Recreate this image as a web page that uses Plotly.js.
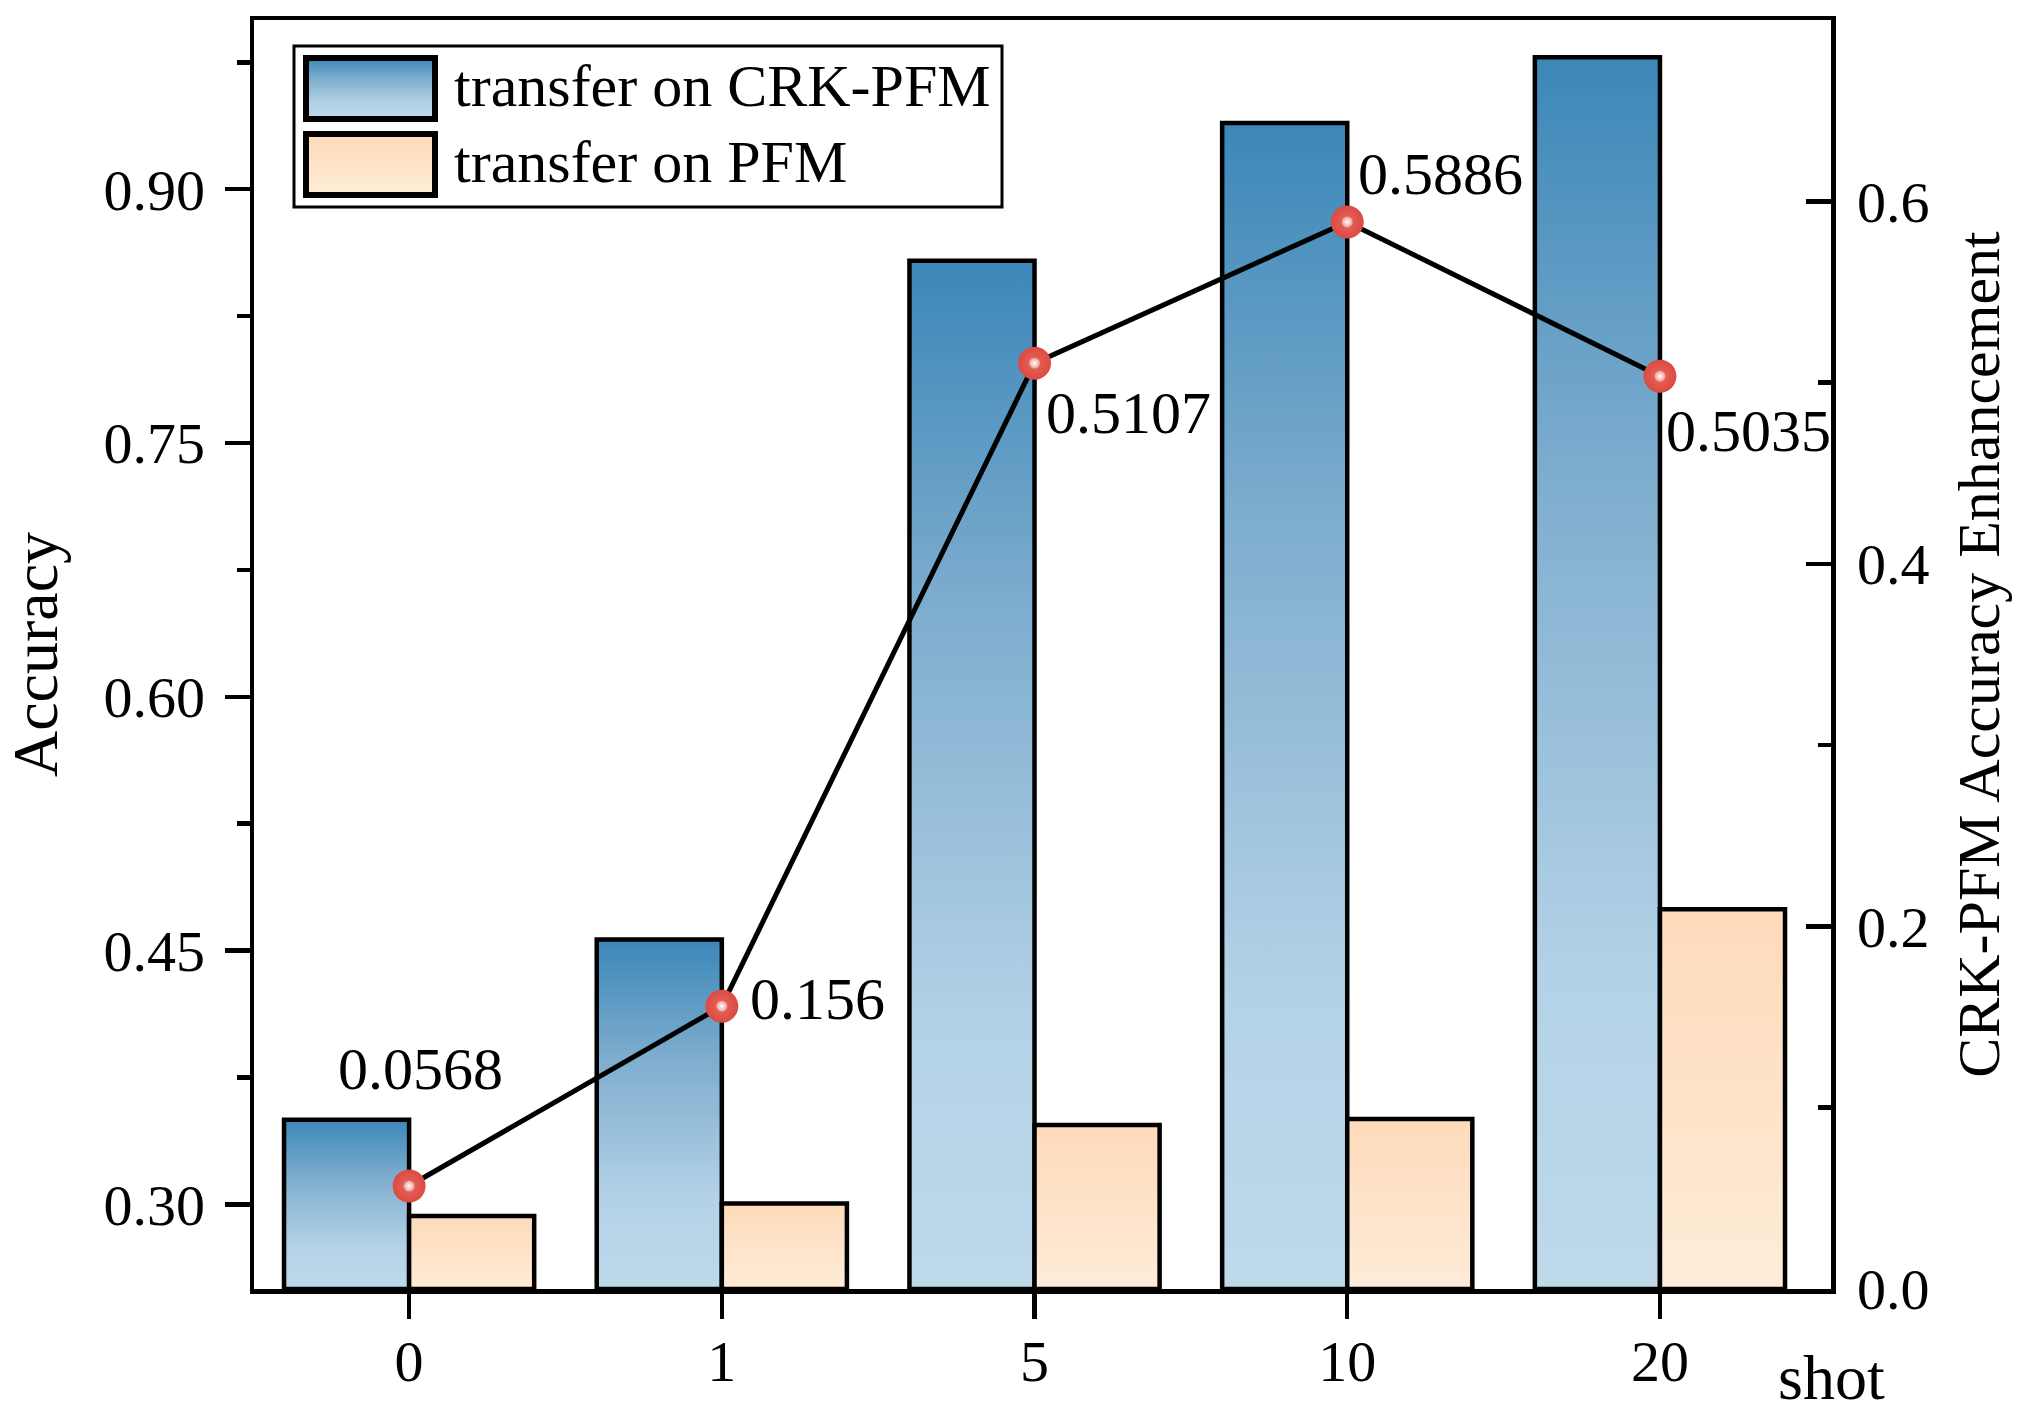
<!DOCTYPE html>
<html>
<head>
<meta charset="utf-8">
<script src="https://cdn.plot.ly/plotly-3.0.1.min.js"></script>
<style>html,body{margin:0;padding:0;background:#fff;}#chart{width:2032px;height:1419px;}</style>
</head>
<body>
<div id="chart"></div>
<script>
// ---------------- data ----------------
const categories = ['0', '1', '5', '10', '20'];
const crkAccuracy = [0.3500, 0.4565, 0.8577, 0.9391, 0.9780];
const pfmAccuracy = [0.2932, 0.3005, 0.3470, 0.3505, 0.4745];
const enhancement = [0.0568, 0.156, 0.5107, 0.5886, 0.5035];
const enhancementLabels = ['0.0568', '0.156', '0.5107', '0.5886', '0.5035'];
const seriesNames = ['transfer on CRK-PFM', 'transfer on PFM'];
const leftTickVals = [0.30, 0.45, 0.60, 0.75, 0.90];
const rightTickVals = [0.0, 0.2, 0.4, 0.6];

// ---------------- style ----------------
const W = 2032, H = 1419;
const M = {l: 254, r: 201, t: 20, b: 130};
const PW = W - M.l - M.r, PH = H - M.t - M.b;
const FONT = 'Liberation Serif, Times New Roman, serif';
const blueScale = [[0, '#BDD9EA'], [0.25, '#B4D2E7'], [0.65, '#80AECF'], [1, '#3B87B8']];
const orangeScale = [[0, '#FEECD8'], [1, '#FEDABA']];
const leftRange = [0.25, 1.0];
const rightRange = [0, 0.7];
const xRange = [-0.496, 4.547];
const barWidth = 0.4;
const LW = 4.5;
const labelStyle = [
  {xanchor: 'center', xshift: 11, yshift: 117},
  {xanchor: 'left', xshift: 26, yshift: 7},
  {xanchor: 'left', xshift: 9, yshift: -50},
  {xanchor: 'left', xshift: 9, yshift: 48},
  {xanchor: 'left', xshift: 4, yshift: -55}
];
const px2x = p => (p - M.l) / PW;
const px2y = p => (H - M.b - p) / PH;

// ---------------- traces ----------------
const traces = [];
const base = leftRange[0];
function barTrace(i, value, offset, scale, name) {
  const x0 = i + offset, x1 = i + offset + barWidth;
  return {
    type: 'scatter', mode: 'lines', name: name, showlegend: false, hoverinfo: 'skip',
    x: [x0, x0, x1, x1, x0], y: [base, value, value, base, base],
    fill: 'toself',
    fillgradient: {type: 'vertical', colorscale: scale},
    line: {color: '#000', width: LW}
  };
}
categories.forEach((c, i) => {
  traces.push(barTrace(i, crkAccuracy[i], -barWidth, blueScale, seriesNames[0]));
  traces.push(barTrace(i, pfmAccuracy[i], 0, orangeScale, seriesNames[1]));
});
const catIdx = categories.map((c, i) => i);
traces.push({
  type: 'scatter', mode: 'lines+markers', x: catIdx, y: enhancement, yaxis: 'y2',
  showlegend: false, hoverinfo: 'skip',
  line: {color: '#000', width: 5},
  marker: {size: 33, color: '#DA4A42', gradient: {type: 'radial', color: '#E8675E'}}
});
traces.push({
  type: 'scatter', mode: 'markers', x: catIdx, y: enhancement, yaxis: 'y2',
  showlegend: false, hoverinfo: 'skip',
  marker: {size: 11, color: '#EE9A93', gradient: {type: 'radial', color: '#FFFFFF'}}
});

// ---------------- annotations ----------------
const annotations = enhancementLabels.map((t, i) => ({
  text: t, x: i, y: enhancement[i], xref: 'x', yref: 'y2', showarrow: false,
  xanchor: labelStyle[i].xanchor, yanchor: 'middle',
  xshift: labelStyle[i].xshift, yshift: labelStyle[i].yshift,
  font: {family: FONT, size: 60, color: '#000'}
}));
annotations.push({
  text: 'shot', xref: 'paper', yref: 'paper', x: 1, y: 0, xanchor: 'center', yanchor: 'middle',
  yshift: -88, showarrow: false, font: {family: FONT, size: 64, color: '#000'}
});
// legend texts
[88, 164].forEach((cy, k) => {
  annotations.push({
    text: seriesNames[k], xref: 'paper', yref: 'paper', x: px2x(452), y: px2y(cy - 2),
    xanchor: 'left', yanchor: 'middle', showarrow: false,
    font: {family: FONT, size: 60, color: '#000'}
  });
});

// legend swatches as gradient images
function swatch(scale) {
  const stops = scale.map(s => `<stop offset='${1 - s[0]}' stop-color='${s[1]}'/>`).reverse().join('');
  const svg = `<svg xmlns='http://www.w3.org/2000/svg' width='135' height='67' viewBox='0 0 135 67' preserveAspectRatio='none'>` +
    `<defs><linearGradient id='g' x1='0' y1='0' x2='0' y2='1'>${stops}</linearGradient></defs>` +
    `<rect x='3' y='3' width='129' height='61' fill='url(#g)' stroke='#000' stroke-width='6'/></svg>`;
  return 'data:image/svg+xml;base64,' + btoa(svg);
}
const images = [
  {source: swatch(blueScale), xref: 'paper', yref: 'paper', x: px2x(303), y: px2y(55),
   sizex: 135 / PW, sizey: 67 / PH, xanchor: 'left', yanchor: 'top', sizing: 'stretch', layer: 'above'},
  {source: swatch(orangeScale), xref: 'paper', yref: 'paper', x: px2x(303), y: px2y(131),
   sizex: 135 / PW, sizey: 67 / PH, xanchor: 'left', yanchor: 'top', sizing: 'stretch', layer: 'above'}
];
const shapes = [
  {type: 'rect', xref: 'paper', yref: 'paper', x0: px2x(294), x1: px2x(1002), y0: px2y(46), y1: px2y(207),
   line: {color: '#000', width: 3}, fillcolor: 'rgba(0,0,0,0)', layer: 'above'}
];

const tickFont = {family: FONT, size: 58, color: '#000'};
const layout = {
  width: W, height: H, margin: M,
  paper_bgcolor: '#fff', plot_bgcolor: '#fff',
  showlegend: false,
  font: {family: FONT, color: '#000'},
  xaxis: {
    range: xRange, tickvals: catIdx, ticktext: categories,
    showline: true, linecolor: '#000', linewidth: LW, mirror: true,
    ticks: 'outside', ticklen: 25, tickwidth: LW, tickcolor: '#000', ticklabelstandoff: -7,
    showgrid: false, zeroline: false, tickfont: tickFont, fixedrange: true
  },
  yaxis: {
    range: leftRange, tickvals: leftTickVals, tickformat: '.2f',
    showline: true, linecolor: '#000', linewidth: LW,
    ticks: 'outside', ticklen: 25, tickwidth: LW, tickcolor: '#000', ticklabelstandoff: 8,
    minor: {dtick: 0.075, tick0: 0.30, ticks: 'outside', ticklen: 13, tickwidth: LW, tickcolor: '#000', showgrid: false},
    showgrid: false, zeroline: false, tickfont: tickFont,
    title: {text: 'Accuracy', font: {family: FONT, size: 64, color: '#000'}, standoff: 26}
  },
  yaxis2: {
    range: rightRange, tickvals: rightTickVals, tickformat: '.1f', overlaying: 'y', side: 'right',
    showline: true, linecolor: '#000', linewidth: LW,
    ticks: 'inside', ticklen: 25, tickwidth: LW, tickcolor: '#000', ticklabelstandoff: 10,
    minor: {dtick: 0.1, tick0: 0, ticks: 'inside', ticklen: 13, tickwidth: LW, tickcolor: '#000', showgrid: false},
    showgrid: false, zeroline: false, tickfont: tickFont,
    title: {text: 'CRK-PFM Accuracy Enhancement', font: {family: FONT, size: 60, color: '#000'}, standoff: 30}
  },
  annotations: annotations, images: images, shapes: shapes
};
Plotly.newPlot('chart', traces, layout, {staticPlot: true, displayModeBar: false});
</script>
</body>
</html>
